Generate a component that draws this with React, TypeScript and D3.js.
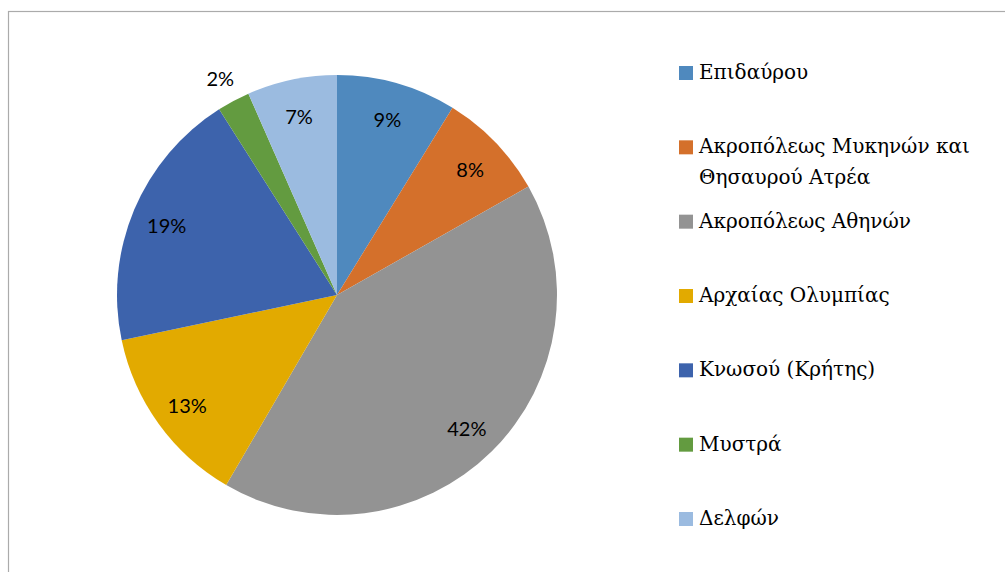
import * as d3 from 'd3';

const sites = [
  'Επιδαύρου',
  'Ακροπόλεως Μυκηνών και Θησαυρού Ατρέα',
  'Ακροπόλεως Αθηνών',
  'Αρχαίας Ολυμπίας',
  'Κνωσού (Κρήτης)',
  'Μυστρά',
  'Δελφών',
];
const shares = [8.8, 8.0, 41.6, 13.3, 19.3, 2.4, 6.6];
const colors = ['#4f89be', '#d4702b', '#939393', '#e2aa00', '#3d63ac', '#639b40', '#9bbbe0'];

const width = 1005;
const height = 572;

// rough word wrap using canvas text metrics
function wrap(text: string, maxWidth: number, font: string): string[] {
  const ctx = document.createElement('canvas').getContext('2d');
  if (!ctx) return [text];
  ctx.font = font;
  const words = text.split(' ');
  const lines: string[] = [];
  let line = '';
  for (const w of words) {
    const test = line ? line + ' ' + w : w;
    if (ctx.measureText(test).width > maxWidth && line) {
      lines.push(line);
      line = w;
    } else {
      line = test;
    }
  }
  if (line) lines.push(line);
  return lines;
}

export default function App() {
  const cx = 337;
  const cy = 295;
  const radius = 220;

  const data = sites.map((name, i) => ({ name, value: shares[i] }));
  const total = d3.sum(shares);

  const pie = d3.pie<{ name: string; value: number }>()
    .value(d => d.value)
    .sort(null);
  const arcs = pie(data);

  const arc = d3.arc<d3.PieArcDatum<{ name: string; value: number }>>()
    .innerRadius(0)
    .outerRadius(radius);

  const labelArc = d3.arc<d3.PieArcDatum<{ name: string; value: number }>>()
    .innerRadius(radius * 0.84)
    .outerRadius(radius * 0.84);
  const outerLabelArc = d3.arc<d3.PieArcDatum<{ name: string; value: number }>>()
    .innerRadius(radius + 28)
    .outerRadius(radius + 28);

  const color = d3.scaleOrdinal<string, string>().domain(sites).range(colors);

  const legendY = d3.scalePoint<string>().domain(sites).range([73, 519]);
  const legendFamily = '"DejaVu Serif", serif';
  const legendSize = 20;
  const legendFont = `${legendSize}px ${legendFamily}`;

  return (
    <svg
      width={width}
      height={height}
      style={{ position: 'absolute', left: 0, top: 0, display: 'block' }}
    >
      <rect x={8.5} y={11.5} width={width} height={height} fill="#fff" stroke="#ababab" strokeWidth={1.2} />

      <g transform={`translate(${cx},${cy})`}>
        {arcs.map((a, i) => (
          <path key={i} d={arc(a) || ''} fill={color(a.data.name)} />
        ))}
        {arcs.map((a, i) => {
          const pct = (a.data.value / total) * 100;
          const [lx, ly] = pct < 4 ? outerLabelArc.centroid(a) : labelArc.centroid(a);
          return (
            <text
              key={i}
              x={lx}
              y={ly + 2}
              textAnchor="middle"
              dominantBaseline="central"
              fontFamily="Lato, 'Open Sans', sans-serif"
              fontSize={20}
              fill="#000"
            >
              {`${Math.round(pct)}%`}
            </text>
          );
        })}
      </g>

      <g style={{ fontFamily: legendFamily, fontSize: legendSize }}>
        {sites.map((name, i) => {
          const y = legendY(name)!;
          const lines = wrap(name, 300, legendFont);
          return (
            <g key={i}>
              <rect x={679} y={y - 7} width={14} height={14} fill={color(name)} />
              <text x={699} y={y + 6} fill="#000">
                {lines.map((l, j) => (
                  <tspan key={j} x={699} dy={j === 0 ? 0 : 31}>
                    {l}
                  </tspan>
                ))}
              </text>
            </g>
          );
        })}
      </g>
    </svg>
  );
}
